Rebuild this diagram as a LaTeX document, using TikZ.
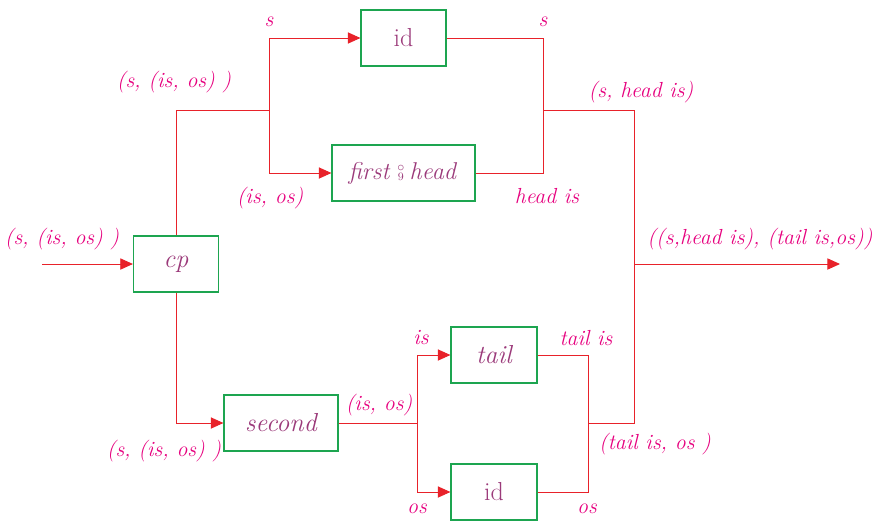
\documentclass[tikz,border=0pt]{standalone}
\usetikzlibrary{arrows.meta}

\definecolor{wire}{HTML}{E8222A}
\definecolor{frame}{HTML}{1DA550}
\definecolor{fname}{HTML}{9B3A7A}
\definecolor{tag}{HTML}{E6007E}

\newcommand{\zsemi}{\mathbin{\vcenter{\offinterlineskip\halign{\hfil##\hfil\cr
  \fontsize{10}{10}\selectfont$\circ$\cr\noalign{\kern1.6pt}\fontsize{8}{8}\selectfont 9\cr}}}}

\tikzset{
  fbox/.style={draw=frame, line width=.8pt, text=fname, minimum height=1.4cm,
    font=\fontsize{18.5}{22}\selectfont},
  wire/.style={draw=wire, line width=.65pt},
  feed/.style={wire, -{Triangle[length=9pt,width=8pt]}},
  tag/.style={text=tag, font=\fontsize{15.5}{18}\selectfont\itshape},
}

\begin{document}
\begin{tikzpicture}[x=0.025cm, y=-0.025cm]

\useasboundingbox (0,0) rectangle (874,521);

% boxes
\node[fbox, minimum width=2.125cm] (idA) at (403.5,38)  {id};
\node[fbox, minimum width=3.575cm] (fh)  at (403.5,173) {$\mathit{first} \zsemi \mathit{head}$};
\node[fbox, minimum width=2.125cm] (cp)  at (176,264)   {\itshape cp};
\node[fbox, minimum width=2.85cm]  (snd) at (281,423)   {\itshape second};
\node[fbox, minimum width=2.15cm]  (tl)  at (494,355)   {\itshape tail};
\node[fbox, minimum width=2.15cm]  (idB) at (494,492)   {id};

% split and merge points
\coordinate (in)     at (42,264);
\coordinate (split1) at (269,110);
\coordinate (split2) at (417,423);
\coordinate (merge1) at (543,110);
\coordinate (merge2) at (588,423);
\coordinate (merge3) at (634,264);
\coordinate (out)    at (840,264);

% wires
\draw[feed] (in) -- (cp);
\draw[wire] (cp.north) |- (split1);
\draw[feed] (split1) |- (idA);
\draw[feed] (split1) |- (fh);
\draw[wire] (idA) -| (merge1);
\draw[wire] (fh) -| (merge1);
\draw[wire] (merge1) -| (merge3);

\draw[feed] (cp.south) |- (snd);
\draw[wire] (snd) -- (split2);
\draw[feed] (split2) |- (tl);
\draw[feed] (split2) |- (idB);
\draw[wire] (tl) -| (merge2);
\draw[wire] (idB) -| (merge2);
\draw[wire] (merge2) -| (merge3);
\draw[feed] (merge3) -- (out);

% labels
\node[tag] (l1)  at (269,22)  {s};
\node[tag] (l2)  at (174,82)  {(s, (is, os) )};
\node[tag] (l3)  at (270,198) {(is, os)};
\node[tag] (l4)  at (543,22)  {s};
\node[tag] (l5)  at (641,92)  {(s, head is)};
\node[tag] (l6)  at (547,196) {head is};
\node[tag] (l7)  at (62,239)  {(s, (is, os) )};
\node[tag] (l8)  at (760,239) {((s,head is), (tail is,os))};
\node[tag] (l9)  at (421,338) {is};
\node[tag] (l10) at (586,338) {tail is};
\node[tag] (l11) at (379,405) {(is, os)};
\node[tag] (l12) at (655,444) {(tail is, os )};
\node[tag] (l13) at (164,451) {(s, (is, os) )};
\node[tag] (l14) at (417,509) {os};
\node[tag] (l15) at (587,509) {os};

\end{tikzpicture}
\end{document}
